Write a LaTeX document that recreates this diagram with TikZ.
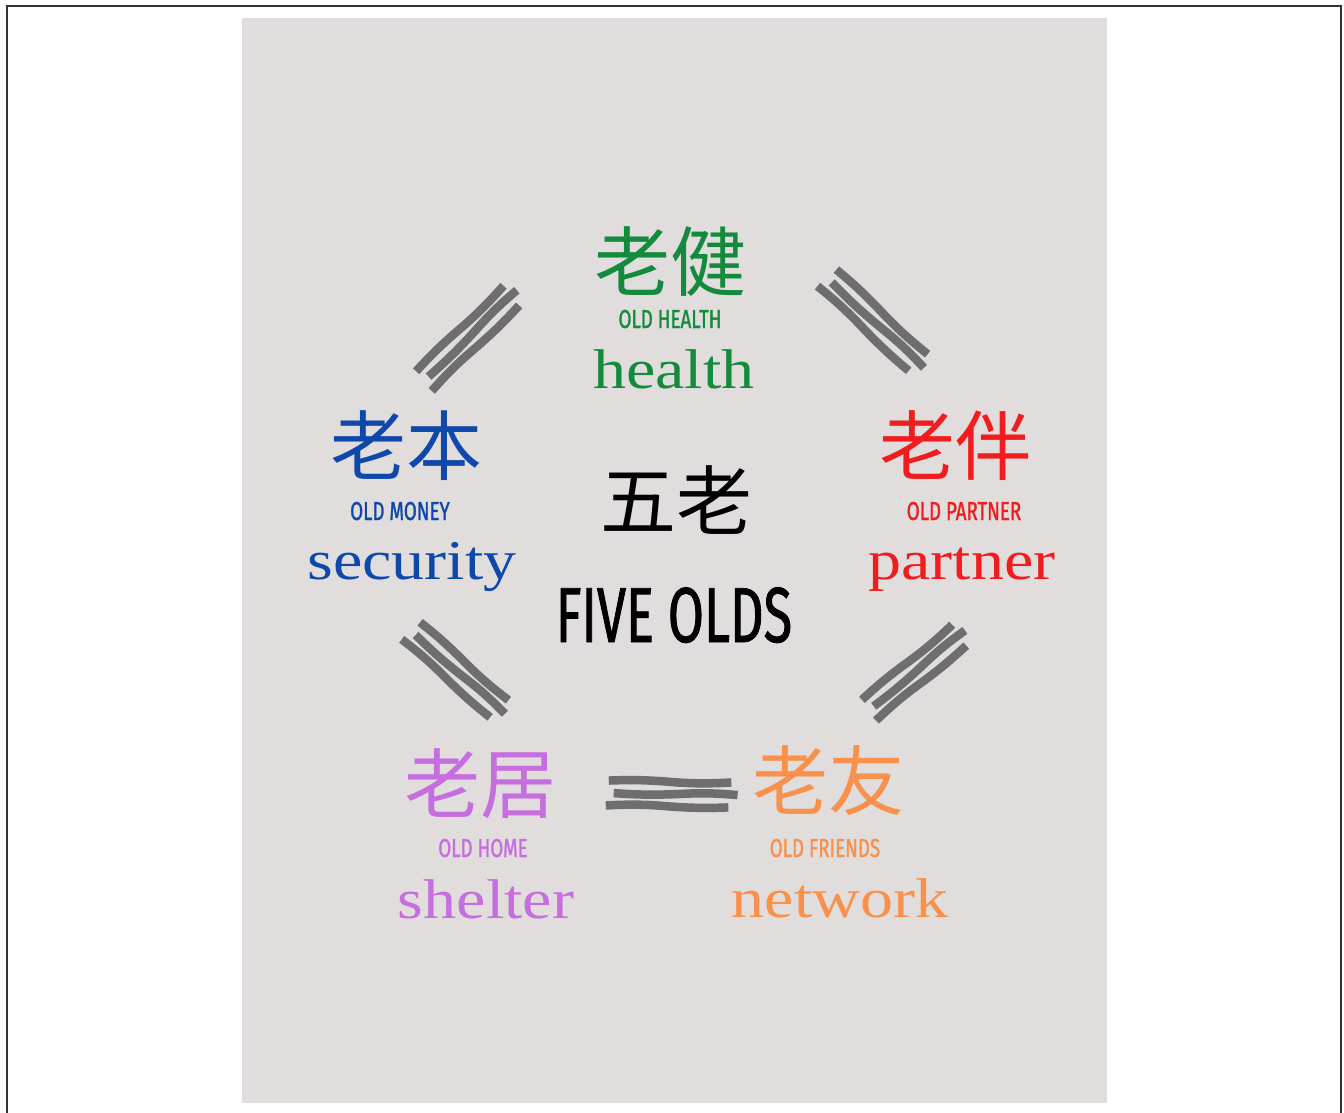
\documentclass[tikz,border=0pt]{standalone}
\usepackage{fontspec}
\usetikzlibrary{calc}
\newfontfamily\cjk{Noto Sans CJK SC}
\newfontfamily\capsf[FakeStretch=0.72,FakeBold=1.1]{Fira Sans}
\newfontfamily\bigcaps[FakeStretch=0.67,FakeBold=1.1]{Fira Sans}
\newfontfamily\serifw[FakeStretch=1.18]{Liberation Serif}
\definecolor{bggray}{HTML}{E0DDDC}
\definecolor{linegray}{HTML}{6E6E6E}
\definecolor{cgreen}{HTML}{138A3C}
\definecolor{cblue}{HTML}{0E48AA}
\definecolor{cred}{HTML}{F01C1E}
\definecolor{cpurple}{HTML}{C66DDF}
\definecolor{corange}{HTML}{F8914B}
\definecolor{frame}{HTML}{333333}
\tikzset{
  zh/.style={font=\cjk\fontsize{76}{76}\selectfont, inner sep=0pt, anchor=base},
  capt/.style={font=\capsf\fontsize{26}{26}\selectfont, inner sep=0pt, anchor=base},
  bigcapt/.style={font=\bigcaps\fontsize{78}{78}\selectfont, inner sep=0pt, anchor=base},
  word/.style={font=\serifw\fontsize{56}{56}\selectfont, inner sep=0pt, anchor=base},
  wavy/.style={draw=linegray, line width=8.5pt, line cap=butt},
}
\newcommand\tripleline[2]{%
  \draw[wavy] ($ ($(#1)!0.00!(#2)$)!-12.5pt!90:(#2) $) to[bend left=4] ($ ($(#1)!0.5!(#2)$)!-12.5pt!90:(#2) $) to[bend right=3] ($ ($(#1)!0.95!(#2)$)!-12.5pt!90:(#2) $);
  \draw[wavy] ($ ($(#1)!0.06!(#2)$)!0pt!90:(#2) $) to[bend right=3] ($ ($(#1)!0.55!(#2)$)!0pt!90:(#2) $) to[bend left=4] ($ ($(#1)!1.02!(#2)$)!0pt!90:(#2) $);
  \draw[wavy] ($ ($(#1)!0.02!(#2)$)!12.5pt!90:(#2) $) to[bend left=3] ($ ($(#1)!0.45!(#2)$)!12.5pt!90:(#2) $) to[bend right=4] ($ ($(#1)!0.97!(#2)$)!12.5pt!90:(#2) $);
}
\begin{document}
\begin{tikzpicture}[x=1pt,y=-1pt]
\useasboundingbox (0,0) rectangle (1344,1112);
\fill[bggray] (242,18) rectangle (1107,1103);
\draw[frame, line width=2pt] (7,1114) -- (7,6) -- (1341,6) -- (1341,1114);
% top: health
\node[zh, text=cgreen] (zhH) at (670,290) {老健};
\node[capt, text=cgreen] (enH) at (670,328) {OLD HEALTH};
\node[word, text=cgreen] (wH) at (674,388) {health};
% left: security
\node[zh, text=cblue] (zhM) at (406,474) {老本};
\node[capt, text=cblue] (enM) at (400,520) {OLD MONEY};
\node[word, text=cblue] (wM) at (412,579) {security};
% right: partner
\node[zh, text=cred] (zhP) at (955,474) {老伴};
\node[capt, text=cred] (enP) at (964,520) {OLD PARTNER};
\node[word, text=cred] (wP) at (962,579) {partner};
% centre
\node[zh, text=black] (zhC) at (676,529) {五老};
\node[bigcapt, text=black] (enC) at (674,642) {FIVE OLDS};
% bottom left: shelter
\node[zh, text=cpurple] (zhS) at (480,812) {老居};
\node[capt, text=cpurple] (enS) at (483,857) {OLD HOME};
\node[word, text=cpurple] (wS) at (486,918) {shelter};
% bottom right: network
\node[zh, text=corange] (zhN) at (828,809) {老友};
\node[capt, text=corange] (enN) at (825,857) {OLD FRIENDS};
\node[word, text=corange] (wN) at (840,917) {network};
% connector end points
\coordinate (c1a) at (423,382); \coordinate (c1b) at (515,292);
\coordinate (c2a) at (826,277); \coordinate (c2b) at (922,366);
\coordinate (c3a) at (410,630); \coordinate (c3b) at (503,712);
\coordinate (c4a) at (868,711); \coordinate (c4b) at (963,632);
\coordinate (c5a) at (606,793); \coordinate (c5b) at (735,795);
\tripleline{c1a}{c1b}
\tripleline{c2a}{c2b}
\tripleline{c3a}{c3b}
\tripleline{c4a}{c4b}
\tripleline{c5a}{c5b}
\end{tikzpicture}
\end{document}
